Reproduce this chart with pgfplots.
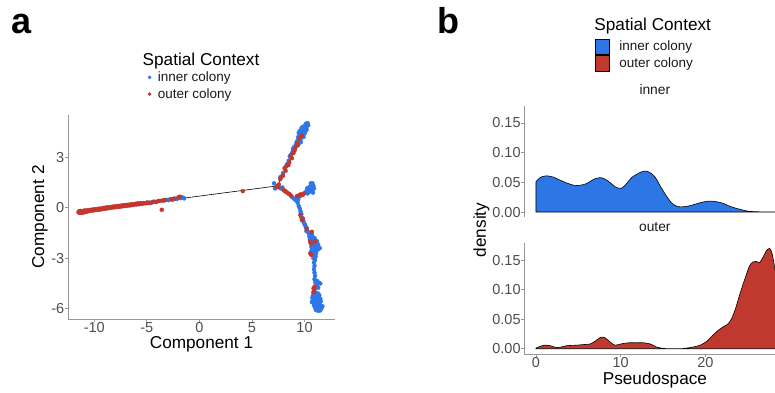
\documentclass[border=0pt]{standalone}
\usepackage{fontspec}
\setmainfont{Liberation Sans}
\usepackage{pgfplots}
\pgfplotsset{compat=1.18}
\definecolor{cblue}{HTML}{2E77E8}
\definecolor{cred}{HTML}{C4372D}
\definecolor{dblue}{HTML}{2C76E6}
\definecolor{dred}{HTML}{C0392E}
\definecolor{axgray}{HTML}{999999}
\definecolor{tickgray}{HTML}{4D4D4D}
\pgfplotsset{
  gg/.style={
    scale only axis,
    axis lines=left,
    axis line style={-, draw=axgray, line width=0.8pt},
    tick align=outside, major tick length=3pt,
    tick style={draw=axgray, line width=0.7pt},
    ticklabel style={font=\fontsize{14.5}{15}\selectfont, text=tickgray, inner sep=0.5pt},
    /pgf/number format/assume math mode=true,
    label style={font=\fontsize{17.2}{18}\selectfont, text=black, inner sep=0pt},
  },
  ptblue/.style={only marks, mark=*, mark size=2pt, color=cblue, mark options={draw=none, fill=cblue}},
  ptred/.style={only marks, mark=*, mark size=2pt, color=cred, mark options={draw=none, fill=cred}},
}
\begin{document}
\begin{tikzpicture}
\useasboundingbox (0,0) rectangle (775pt,-392pt);
\node[anchor=base west, inner sep=0pt, font=\fontsize{36}{36}\selectfont\bfseries] at (11.3pt,-33.3pt) {a};
\node[anchor=base west, inner sep=0pt, font=\fontsize{36}{36}\selectfont\bfseries] at (437.5pt,-33.3pt) {b};
\node[anchor=base west, inner sep=0pt, font=\fontsize{17.2}{18}\selectfont] at (142.5pt,-65pt) {Spatial Context};
\node[anchor=base west, inner sep=0pt, font=\fontsize{17.2}{18}\selectfont] at (594.2pt,-30.7pt) {Spatial Context};

% ---------------- panel a ----------------
\begin{axis}[gg, at={(68pt,-319pt)}, anchor=south west, width=267pt, height=204pt,
  xmin=-12.5, xmax=12.9, ymin=-6.61, ymax=5.51,
  xtick={-10,-5,0,5,10}, ytick={-6,-3,0,3},
  xlabel={Component 1}, ylabel={Component 2},
  xlabel style={at={(axis description cs:0.5,-0.1446)}, anchor=base},
  ylabel style={at={(axis description cs:-0.1049,0.5)}, anchor=center},
  legend cell align=left,
  legend style={at={(axis description cs:0.4558,1.1436)}, anchor=center, draw=none, fill=none,
    inner sep=0pt, row sep=5.4pt, font=\fontsize{13.5}{14}\selectfont, nodes={inner sep=0pt, text=black!90}},
  legend image code/.code={\draw[#1, mark size=1.6pt] plot coordinates {(1.5pt,0pt)}; \path (9.5pt,0pt);},
]
\addplot[ptblue] coordinates {
(-6.0,0.22) (-5.85,0.27) (-5.7,0.21) (-5.55,0.26) (-4.8,0.31) (-4.65,0.28) (-4.45,0.35)
(-3.35,0.43) (-3.15,0.47) (-2.95,0.45) (-2.8,0.50) (-2.55,0.48) (-2.35,0.55) (-2.15,0.52)
(-1.95,0.60) (-1.8,0.57) (-1.6,0.61) (-1.45,0.56)
(7.1,1.45) (7.2,1.15) (7.75,1.15) (7.9,1.2) (8.15,1.0) (8.8,0.65) (8.95,0.56) (9.15,0.45)
(9.27,0.62) (9.4,0.5) (9.6,0.7)
(7.7,1.8) (7.95,2.05) (8.25,2.45) (8.35,2.6) (8.5,2.8) (8.6,3.05) (8.7,3.15) (8.85,3.3)
(8.9,3.5) (9.0,3.6) (9.15,3.7) (9.25,3.9) (9.35,4.0) (9.45,3.95) (9.4,4.2) (9.55,4.3)
(9.6,4.1) (9.55,4.55) (9.65,4.4) (9.7,4.2) (9.75,4.5) (9.8,4.35) (9.85,4.65) (9.9,4.5)
(9.95,4.8) (10.0,4.6) (10.05,4.9) (10.1,4.75) (10.15,5.0) (10.2,4.85) (10.25,4.95)
(10.3,5.02) (10.35,4.9) (10.0,4.4) (9.9,4.2) (10.1,4.55) (9.7,4.7) (9.6,4.0) (9.5,3.85)
(10.2,4.65) (9.8,4.8) (9.45,4.45) (9.65,3.9)
(10.1,0.9) (10.2,1.0) (10.35,1.05) (10.5,1.1) (10.65,1.15) (10.8,1.2) (10.3,0.85)
(10.45,0.95) (10.6,1.0) (10.75,1.05) (10.85,1.3) (10.7,1.35) (10.55,1.25) (10.4,1.2)
(10.6,1.45) (10.75,1.45) (10.9,1.15) (10.8,0.9) (10.25,1.15)
(9.35,0.3) (9.45,0.1) (9.55,-0.05) (9.62,-0.22) (9.7,-0.38) (9.68,-0.55) (9.82,-0.62)
(9.9,-0.82) (9.98,-0.95) (10.06,-1.02) (10.12,-1.15) (10.22,-1.22) (10.18,-1.38) (10.3,-1.42)
(10.4,-1.5) (10.55,-1.55) (10.7,-1.6) (10.45,-1.7) (10.6,-1.75) (10.8,-1.75) (10.95,-1.8)
(10.5,-1.9) (10.7,-1.9) (10.85,-1.95) (11.05,-1.95) (11.2,-2.0) (10.6,-2.1) (10.75,-2.1)
(10.95,-2.15) (11.1,-2.15) (11.3,-2.2) (10.65,-2.3) (10.8,-2.3) (11.0,-2.35) (11.15,-2.35)
(11.45,-2.4) (10.7,-2.45) (10.9,-2.5) (11.05,-2.55) (11.25,-2.5) (10.65,-2.6) (10.8,-2.65)
(10.95,-2.7) (11.1,-2.7) (10.75,-2.8) (10.9,-2.85) (11.05,-2.9) (10.85,-3.0) (11.0,-3.1)
(10.9,-3.25) (10.95,-3.45) (10.9,-3.65) (10.95,-3.85) (11.0,-4.05) (10.95,-4.25) (11.05,-4.4)
(11.2,-4.35) (11.35,-4.45) (11.5,-4.5) (11.15,-4.6) (11.05,-4.75) (11.3,-4.75)
(10.9,-5.0) (11.1,-5.05) (11.3,-5.1) (10.8,-5.2) (11.0,-5.2) (11.2,-5.25) (11.4,-5.2)
(10.75,-5.35) (10.95,-5.35) (11.15,-5.4) (11.35,-5.35) (11.5,-5.4) (10.8,-5.5) (11.0,-5.5)
(11.2,-5.55) (11.4,-5.5) (11.55,-5.55) (10.85,-5.65) (11.05,-5.65) (11.25,-5.7) (11.45,-5.7)
(10.7,-5.6) (10.9,-5.8) (11.1,-5.8) (11.3,-5.85) (11.5,-5.8) (11.7,-5.85) (11.0,-5.95)
(11.2,-5.95) (11.4,-6.0) (11.6,-5.98) (11.1,-6.08) (11.3,-6.12) (11.5,-6.1)
};
\addlegendentry{inner colony}
\addplot[ptred] coordinates {
(-11.5,-0.27) (-11.45,-0.21) (-11.4,-0.30) (-11.35,-0.24) (-11.3,-0.19) (-11.25,-0.28)
(-11.2,-0.22) (-11.15,-0.31) (-11.1,-0.25) (-11.05,-0.19) (-11.0,-0.27) (-10.95,-0.21)
(-10.9,-0.16) (-10.85,-0.25) (-10.8,-0.19) (-10.7,-0.23) (-10.65,-0.15) (-10.55,-0.20)
(-10.5,-0.13) (-10.4,-0.18) (-10.3,-0.12) (-10.2,-0.17) (-10.1,-0.10) (-10.0,-0.15)
(-9.9,-0.09) (-9.8,-0.13) (-9.7,-0.07) (-9.6,-0.12) (-9.5,-0.05) (-9.4,-0.10) (-9.3,-0.04)
(-9.2,-0.08) (-9.1,-0.01) (-9.0,-0.06) (-8.9,0.01) (-8.8,-0.04) (-8.7,0.03) (-8.6,-0.02)
(-8.5,0.04) (-8.4,0.00) (-8.3,0.06) (-8.2,0.02) (-8.1,0.08) (-8.0,0.03) (-7.9,0.09)
(-7.8,0.05) (-7.7,0.11) (-7.6,0.06) (-7.5,0.12) (-7.4,0.08) (-7.3,0.14) (-7.2,0.10)
(-7.1,0.15) (-7.0,0.11) (-6.9,0.17) (-6.8,0.13) (-6.7,0.18) (-6.6,0.14) (-6.5,0.20)
(-6.4,0.16) (-6.3,0.21) (-6.2,0.18) (-6.1,0.23) (-5.95,0.20) (-5.8,0.22) (-5.6,0.27)
(-5.45,0.23) (-5.3,0.28) (-5.15,0.26) (-5.0,0.31) (-4.9,0.27) (-4.55,0.31) (-4.3,0.36)
(-4.1,0.34) (-3.95,0.39) (-3.75,0.41) (-3.58,-0.12) (-3.5,0.43) (-3.3,0.46) (-2.65,0.51)
(-2.45,0.53) (-2.0,0.62) (-1.85,0.66)
(4.13,0.99)
(7.43,1.3) (7.35,1.25) (7.55,1.38) (7.5,1.22) (7.7,1.7) (7.8,1.85) (7.95,1.9) (8.2,2.2)
(8.1,2.35) (8.3,2.5) (8.47,2.54) (8.55,2.7) (8.8,2.94) (8.7,3.05) (8.95,3.25) (9.11,3.53)
(9.05,3.4) (9.27,3.83) (9.35,3.7) (9.5,4.1) (9.75,4.3)
(8.0,1.05) (8.15,0.98) (8.3,0.92) (8.45,0.85) (8.6,0.8) (8.7,0.72) (9.3,0.7) (9.5,0.75)
(9.65,0.8) (9.85,0.78) (9.95,0.85)
(9.6,-0.43) (9.75,-0.73) (9.85,-0.68) (10.2,-1.25) (10.7,-1.43) (10.55,-2.02) (10.6,-2.1)
(10.55,-2.71) (10.65,-2.8) (11.0,-2.0) (10.86,-4.79) (10.92,-4.9) (10.85,-5.02) (10.95,-4.7)
};
\addlegendentry{outer colony}
\addplot[forget plot, black, line width=0.6pt] coordinates {(-11.4,-0.24) (7.43,1.3) (10.2,4.9)};
\addplot[forget plot, black, line width=0.6pt] coordinates {(7.43,1.3) (9.28,0.42) (10.6,1.15)};
\addplot[forget plot, black, line width=0.6pt] coordinates {(9.28,0.42) (10.1,-1.2) (10.86,-2.5) (10.9,-4.5) (11.2,-5.7)};
\end{axis}

% ---------------- panel b, inner ----------------
\begin{axis}[gg, at={(524.3pt,-217.3pt)}, anchor=south west, width=250.7pt, height=111.3pt,
  xmin=-1.38, xmax=28.22, ymin=-0.0089, ymax=0.1785,
  axis x line=none,
  ytick={0,0.05,0.1,0.15},
  yticklabel style={/pgf/number format/.cd, fixed, fixed zerofill, precision=2},
  title={inner},
  title style={at={(axis description cs:0.5207,1.0898)}, anchor=center, font=\fontsize{13.8}{14}\selectfont, text=black!90},
  legend cell align=left,
  legend style={at={(axis description cs:0.4767,1.4582)}, anchor=center, draw=none, fill=none,
    inner sep=0pt, row sep=0pt, font=\fontsize{13.5}{14}\selectfont, nodes={inner sep=0pt, text=black!90}},
  legend image code/.code={\draw[#1, line width=0.6pt] (0pt,-7.85pt) rectangle (14pt,7.85pt); \path (24pt,0pt);},
]
\addplot[fill=dblue, draw=black, line width=0.6pt, smooth] coordinates {
(0,0.051) (0.5,0.058) (1.2,0.061) (2.0,0.059) (2.8,0.054) (3.6,0.049) (4.5,0.045) (5.2,0.045)
(6.0,0.048) (6.8,0.055) (7.6,0.058) (8.2,0.055) (8.8,0.049) (9.4,0.042) (10.1,0.040) (10.7,0.048)
(11.3,0.058) (12.2,0.066) (12.9,0.069) (13.5,0.066) (14.1,0.058) (14.7,0.043) (15.4,0.027)
(16.1,0.014) (16.8,0.009) (17.5,0.009) (18.3,0.011) (19.2,0.015) (20.2,0.018) (21.0,0.018)
(22.0,0.015) (23.0,0.009) (24.1,0.0045) (25.0,0.0015) (26,0.0005) (27,0.0002) (28.6,0.0001)
} \closedcycle;
\addlegendentry{inner colony}
\addlegendimage{fill=dred, draw=black}
\addlegendentry{outer colony}
\end{axis}

% ---------------- panel b, outer ----------------
\begin{axis}[gg, at={(524.3pt,-354pt)}, anchor=south west, width=250.7pt, height=111.3pt,
  xmin=-1.38, xmax=28.22, ymin=-0.009, ymax=0.1797,
  xtick={0,10,20},
  ytick={0,0.05,0.1,0.15},
  yticklabel style={/pgf/number format/.cd, fixed, fixed zerofill, precision=2},
  title={outer},
  title style={at={(axis description cs:0.5207,1.0898)}, anchor=center, font=\fontsize{13.8}{14}\selectfont, text=black!90},
  xlabel={Pseudospace}, ylabel={density},
  xlabel style={at={(axis description cs:0.521,-0.2336)}, anchor=center},
  ylabel style={at={(axis description cs:-0.1707,1.114)}, anchor=center},
]
\addplot[fill=dred, draw=black, line width=0.6pt, smooth] coordinates {
(0,0.001) (0.5,0.004) (1.06,0.006) (1.7,0.005) (2.4,0.002) (3.0,0.003) (3.6,0.005) (4.8,0.006)
(5.6,0.007) (6.4,0.008) (7.0,0.013) (7.6,0.019) (8.1,0.019) (8.7,0.012) (9.3,0.006) (10.0,0.008)
(10.9,0.010) (11.8,0.010) (12.7,0.010) (13.5,0.008) (14.2,0.003) (14.8,0.001) (15.5,0.0)
(16.3,0.0) (17.1,0.0) (17.8,0.001) (18.6,0.003) (19.4,0.006) (20.2,0.013) (20.9,0.023)
(21.5,0.031) (22.1,0.037) (22.6,0.041) (23.1,0.051) (23.6,0.07) (24.1,0.094) (24.7,0.12)
(25.2,0.14) (25.6,0.147) (26.0,0.148) (26.4,0.146) (26.8,0.155) (27.2,0.166) (27.6,0.170)
(27.9,0.160) (28.2,0.136) (28.6,0.10)
} \closedcycle;
\end{axis}
\end{tikzpicture}
\end{document}
